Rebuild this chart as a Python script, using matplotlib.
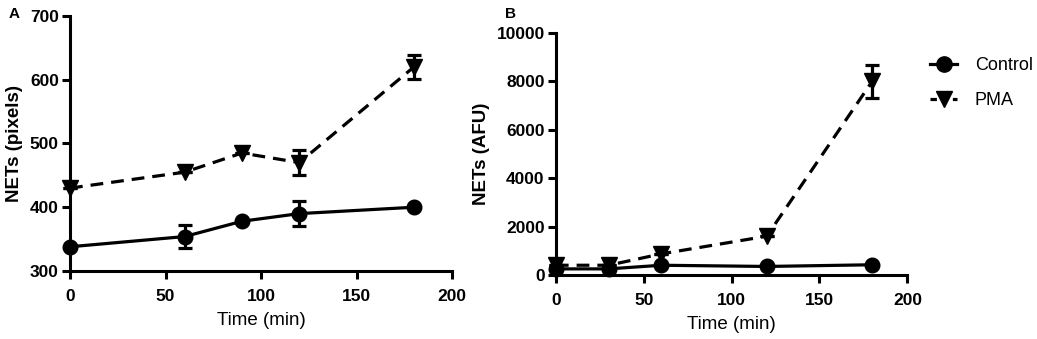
import matplotlib
matplotlib.use('Agg')
import matplotlib.pyplot as plt
from matplotlib.lines import Line2D

plt.rcParams['font.family'] = ['Liberation Sans', 'DejaVu Sans']

# Panel A data (NETs in pixels)
a_time = [0, 60, 90, 120, 180]
a_control = [338, 354, 378, 390, 400]
a_control_err = [0, 18, 0, 20, 0]
a_pma = [430, 455, 485, 470, 620]
a_pma_err = [0, 0, 0, 20, 19]

# Panel B data (NETs in AFU)
b_time = [0, 30, 60, 120, 180]
b_control = [250, 250, 400, 350, 420]
b_control_err = [0, 0, 0, 0, 0]
b_pma = [400, 400, 870, 1600, 8000]
b_pma_err = [0, 0, 0, 0, 670]

series_labels = ['Control', 'PMA']

fig = plt.figure(figsize=(10.37, 3.39), dpi=100)
ax_a = fig.add_axes([0.0675, 0.2006, 0.3685, 0.7524])
ax_b = fig.add_axes([0.536, 0.189, 0.339, 0.714])

lw = 2.3
dash = (4, 2.5)

def draw_panel(ax, t, ctrl, ctrl_err, pma, pma_err):
    ax.errorbar(t, ctrl, yerr=ctrl_err, color='black', lw=lw, marker='o',
                ms=10.5, capsize=5, capthick=lw, elinewidth=lw,
                clip_on=False, zorder=3)
    ax.errorbar(t, pma, yerr=pma_err, color='black', lw=lw, marker='v',
                ms=11, capsize=5, capthick=lw, elinewidth=lw, dashes=dash,
                clip_on=False, zorder=3)
    for side in ['top', 'right']:
        ax.spines[side].set_visible(False)
    for side in ['left', 'bottom']:
        ax.spines[side].set_linewidth(2.2)
    ax.tick_params(width=2.2, length=6, labelsize=12.5)
    ax.tick_params(axis='x', pad=7)
    ax.tick_params(axis='y', pad=2)
    ax.set_xlim(0, 200)
    ax.set_xticks([0, 50, 100, 150, 200])
    for lab in ax.get_xticklabels():
        lab.set_fontweight('bold')
    ax.set_xlabel('Time (min)', fontsize=13.5, labelpad=6)

draw_panel(ax_a, a_time, a_control, a_control_err, a_pma, a_pma_err)
ax_a.set_ylim(300, 700)
ax_a.set_yticks([300, 400, 500, 600, 700])
ax_a.set_ylabel('NETs (pixels)', fontsize=13.5, fontweight='bold', labelpad=5)
for lab in ax_a.get_yticklabels():
    lab.set_fontweight('bold')

draw_panel(ax_b, b_time, b_control, b_control_err, b_pma, b_pma_err)
ax_b.set_ylim(0, 10000)
ax_b.set_yticks([0, 2000, 4000, 6000, 8000, 10000])
ax_b.set_ylabel('NETs (AFU)', fontsize=13.5, fontweight='bold', labelpad=5)
for lab in ax_b.get_yticklabels():
    lab.set_fontweight('bold')

handles = [Line2D([], [], color='black', lw=lw, marker='o', ms=11),
           Line2D([], [], color='black', lw=lw, marker='v', ms=11, dashes=(2, 1.5))]
ax_b.legend(handles, series_labels, loc='upper left', bbox_to_anchor=(1.045, 0.93),
            frameon=False, fontsize=13, handlelength=1.45, handletextpad=1.0,
            labelspacing=1.0, borderaxespad=0.0)

fig.text(0.008, 0.958, 'A', fontsize=11, fontweight='bold', va='center')
fig.text(0.487, 0.958, 'B', fontsize=11, fontweight='bold', va='center')

fig.savefig('out.png', dpi=100)
